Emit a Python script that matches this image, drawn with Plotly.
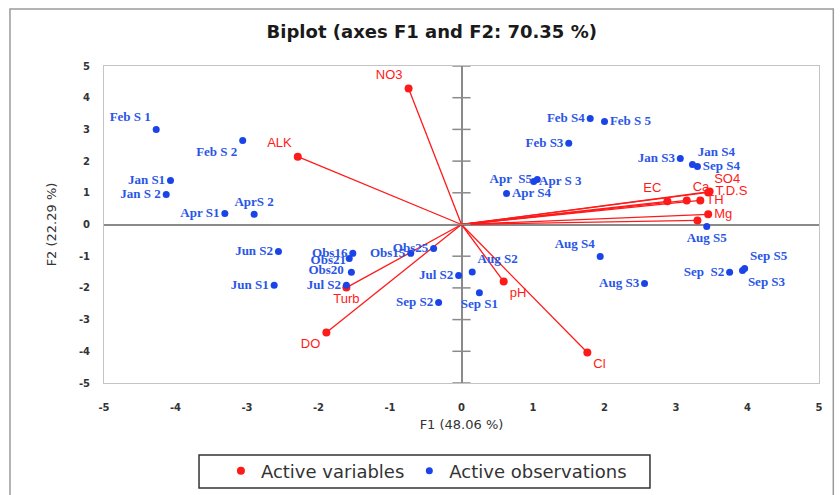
import plotly.graph_objects as go

# ---------------- data ----------------
var_names = ["NO3", "ALK", "DO", "Cl", "pH", "Turb", "EC", "Ca", "T.D.S", "SO4", "TH", "Mg", ""]
var_f1 = [-0.74, -2.29, -1.89, 1.76, 0.59, -1.61, 2.88, 3.15, 3.47, 3.45, 3.34, 3.45, 3.30]
var_f2 = [4.29, 2.14, -3.41, -4.04, -1.80, -1.99, 0.73, 0.76, 1.04, 1.01, 0.76, 0.32, 0.13]

obs_names = ["Feb S 1", "Feb S 2", "Jan S1", "Jan S 2", "Apr S1", "AprS 2",
             "Feb S4", "Feb S 5", "Feb S3", "Jan S3", "Jan S4", "Sep S4",
             "Apr  S5", "Apr S 3", "Apr S4", "Aug S5", "Aug S4", "Aug S2",
             "Jul S2", "Sep S1", "Aug S3", "Sep  S2", "Sep S5", "Sep S3",
             "Sep S2", "Jun S2", "Jun S1", "Jul S2",
             "Obs16", "Obs20", "Obs21", "Obs15", "Obs25"]
obs_f1 = [-4.27, -3.06, -4.07, -4.13, -3.31, -2.90,
          1.80, 2.00, 1.50, 3.06, 3.23, 3.30,
          1.06, 1.01, 0.63, 3.43, 1.94, 0.15,
          -0.04, 0.25, 2.56, 3.75, 3.96, 3.93,
          -0.32, -2.56, -2.62, -1.61,
          -1.52, -1.57, -1.54, -0.71, -0.39]
obs_f2 = [3.00, 2.65, 1.39, 0.95, 0.35, 0.32,
          3.34, 3.25, 2.56, 2.08, 1.89, 1.83,
          1.42, 1.36, 0.98, -0.06, -1.01, -1.50,
          -1.61, -2.15, -1.86, -1.51, -1.39, -1.45,
          -2.46, -0.85, -1.92, -1.92,
          -0.91, -1.07, -1.51, -0.91, -0.76]

tick_vals = [-5, -4, -3, -2, -1, 0, 1, 2, 3, 4, 5]
tick_text = ["-5", "-4", "-3", "-2", "-1", "0", "1", "2", "3", "4", "5"]

# ---------------- styles ----------------
var_pos = ["top left", "top left", "bottom left", "bottom right", "bottom right", "bottom center",
           "top left", "top right", "middle right", "top right", "middle right", "middle right", "middle right"]
obs_pos = ["top left", "bottom left", "middle left", "middle left", "middle left", "top center",
           "middle left", "middle right", "middle left", "middle left", "top right", "middle right",
           "middle left", "middle right", "middle right", "bottom center", "top left", "top right",
           "middle left", "bottom center", "middle left", "middle left", "top right", "bottom right",
           "middle left", "middle left", "middle left", "middle left",
           "middle left", "bottom left", "top left", "middle left", "middle left"]

RED = "#ff1a1a"
BLUE = "#1a44e8"

fig = go.Figure()

# variable vectors from origin
lx, ly = [], []
for a, b in zip(var_f1, var_f2):
    lx += [0, a, None]
    ly += [0, b, None]
fig.add_trace(go.Scatter(x=lx, y=ly, mode="lines", line=dict(color=RED, width=1.3),
                         showlegend=False, hoverinfo="skip"))

# y tick marks on the vertical zero axis
fig.add_trace(go.Scatter(x=[0] * len(tick_vals), y=tick_vals, mode="markers",
                         marker=dict(symbol="line-ew", size=13, line=dict(color="#8a8a8a", width=1.5)),
                         showlegend=False, hoverinfo="skip"))

fig.add_trace(go.Scatter(x=var_f1, y=var_f2, mode="markers+text", name="Active variables",
                         text=var_names, textposition=var_pos,
                         textfont=dict(family="Liberation Sans", size=13, color=RED),
                         marker=dict(color=RED, size=8)))
fig.add_trace(go.Scatter(x=obs_f1, y=obs_f2, mode="markers+text", name="Active observations",
                         text=obs_names, textposition=obs_pos,
                         textfont=dict(family="Liberation Serif", size=13, color="#2a56e6", weight="bold"),
                         marker=dict(color=BLUE, size=7)))

axis_common = dict(range=[-5, 5], tickvals=tick_vals, ticktext=tick_text, showgrid=False,
                   zeroline=True, zerolinecolor="#8a8a8a", zerolinewidth=2,
                   showline=True, mirror=True, linecolor="#c4c4c4", linewidth=1,
                   ticks="outside", tickcolor="rgba(0,0,0,0)", automargin=False,
                   tickfont=dict(family="DejaVu Sans", size=10, color="#333333", weight="bold"))

fig.update_layout(
    width=840, height=495,
    margin=dict(l=104, r=21, t=66, b=112),
    paper_bgcolor="white", plot_bgcolor="white",
    title=dict(text="<b>Biplot (axes F1 and F2: 70.35 %)</b>", x=0.514, xanchor="center",
               y=0.935, yanchor="middle",
               font=dict(family="DejaVu Sans", size=18, color="#1a1a1a")),
    xaxis=dict(**axis_common, ticklen=15,
               title=dict(text="F1 (48.06 %)", standoff=7,
                          font=dict(family="DejaVu Sans", size=13, color="#333333"))),
    yaxis=dict(**axis_common, ticklen=11,
               title=dict(text="F2 (22.29 %)", standoff=19,
                          font=dict(family="DejaVu Sans", size=13, color="#333333"))),
    legend=dict(orientation="h", xref="container", yref="container",
                x=0.263, xanchor="left", y=0.0485, yanchor="middle",
                borderwidth=0, bgcolor="rgba(0,0,0,0)",
                font=dict(family="DejaVu Sans", size=18, color="#333333"),
                itemwidth=30),
    showlegend=True,
    shapes=[dict(type="rect", xref="paper", yref="paper", x0=-0.1315, x1=1.02, y0=-0.4, y1=1.18,
                 line=dict(color="#9a9a9a", width=1.5), fillcolor="rgba(0,0,0,0)", layer="below"),
            dict(type="rect", xref="paper", yref="paper", x0=0.1329, x1=0.7636, y0=-0.3312, y1=-0.2271,
                 line=dict(color="#333333", width=1.5), fillcolor="rgba(0,0,0,0)")],
)

fig.write_html("out.html")
